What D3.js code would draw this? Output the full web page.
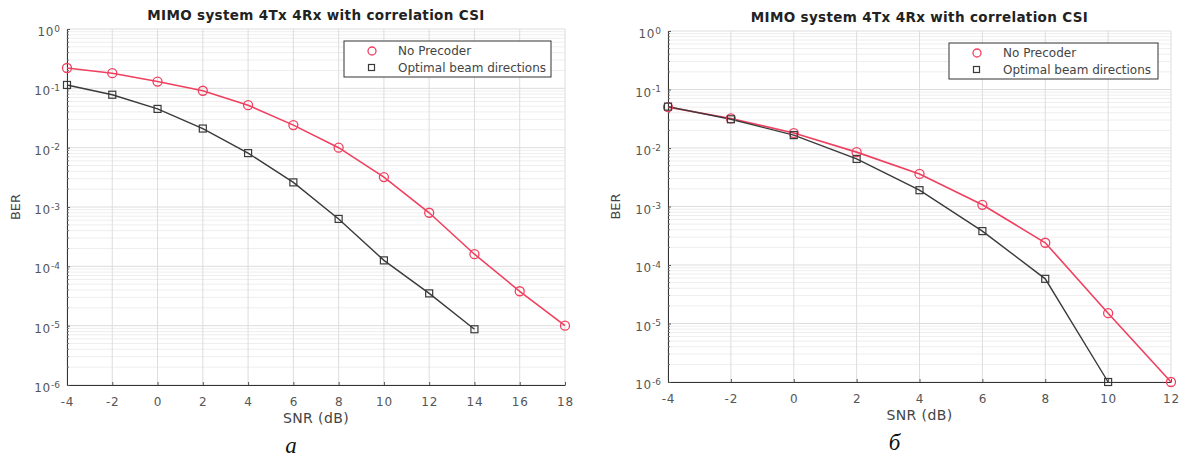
<!DOCTYPE html>
<html>
<head>
<meta charset="utf-8">
<script src="https://cdn.jsdelivr.net/npm/d3@7"></script>
<style>
  body { margin: 0; background: #fff; }
  svg { display: block; font-family: "DejaVu Sans", Arial, sans-serif; }
</style>
</head>
<body>
<svg id="chart" width="1186" height="459"></svg>
<script>
// Panel a
const snrA = [-4, -2, 0, 2, 4, 6, 8, 10, 12, 14, 16, 18];
const noPrecoderA = [0.22, 0.18, 0.13, 0.091, 0.052, 0.024, 0.0100, 0.0032, 0.00080, 0.00016, 0.000038, 0.000010];
const optimalA = [0.114, 0.078, 0.045, 0.021, 0.0081, 0.0026, 0.00063, 0.000126, 0.000035, 0.0000087];

// Panel б
const snrB = [-4, -2, 0, 2, 4, 6, 8, 10, 12];
const noPrecoderB = [0.050, 0.032, 0.018, 0.0085, 0.0036, 0.00107, 0.00024, 0.000015, 0.000001];
const optimalB = [0.051, 0.031, 0.0166, 0.0065, 0.0019, 0.00038, 0.000058, 0.000001];

const xTicksA = [-4, -2, 0, 2, 4, 6, 8, 10, 12, 14, 16, 18];
const xTicksB = [-4, -2, 0, 2, 4, 6, 8, 10, 12];
const yExponents = [0, -1, -2, -3, -4, -5, -6];

const title = "MIMO system 4Tx 4Rx with correlation CSI";
const legendNames = ["No Precoder", "Optimal beam directions"];
const redColor = "#f0405f";
const darkColor = "#3a3a3a";

const svg = d3.select("#chart");

function panel(opts) {
  const { left, right, top, bottom, xDomain, xTicks, snr, red, black, caption, legend, titleY, labelX } = opts;

  const x = d3.scaleLinear().domain(xDomain).range([left, right]);
  const y = d3.scaleLog().domain([1e-6, 1]).range([bottom, top]);

  const g = svg.append("g");

  // minor grid
  const minor = [];
  for (let e = -6; e < 0; e++) for (let m = 2; m <= 9; m++) minor.push(m * Math.pow(10, e));
  g.append("g")
    .selectAll("line")
    .data(minor)
    .join("line")
    .attr("x1", left).attr("x2", right)
    .attr("y1", d => y(d)).attr("y2", d => y(d))
    .attr("stroke", "#eeeeee");

  // major grid
  g.append("g")
    .selectAll("line")
    .data(yExponents.map(e => Math.pow(10, e)))
    .join("line")
    .attr("x1", left).attr("x2", right)
    .attr("y1", d => y(d)).attr("y2", d => y(d))
    .attr("stroke", "#dddddd");
  g.append("g")
    .selectAll("line")
    .data(xTicks)
    .join("line")
    .attr("x1", d => x(d)).attr("x2", d => x(d))
    .attr("y1", top).attr("y2", bottom)
    .attr("stroke", "#dddddd");

  // axes
  g.append("g")
    .attr("transform", `translate(0,${bottom})`)
    .call(d3.axisBottom(x).tickValues(xTicks).tickFormat(d => String(d)).tickSize(-3).tickPadding(12).tickSizeOuter(0))
    .call(a => a.select(".domain").attr("stroke", "#333"))
    .call(a => a.selectAll(".tick line").attr("stroke", "#555"))
    .call(a => a.selectAll(".tick text")
      .attr("fill", "#555").attr("font-size", 12).attr("letter-spacing", 0.8)
      .attr("font-family", "'DejaVu Sans', sans-serif"));

  const ya = g.append("g")
    .attr("transform", `translate(${left},0)`)
    .call(d3.axisLeft(y).tickValues(yExponents.map(e => Math.pow(10, e))).tickSize(-3).tickPadding(7).tickSizeOuter(0).tickFormat(""))
    .call(a => a.select(".domain").attr("stroke", "#333"))
    .call(a => a.selectAll(".tick line").attr("stroke", "#555"));
  ya.selectAll(".tick text").each(function (d) {
    const t = d3.select(this)
      .attr("fill", "#555").attr("font-size", 12).attr("dy", "0.55em")
      .attr("font-family", "'DejaVu Sans', sans-serif");
    t.append("tspan").attr("letter-spacing", 0.8).text("10");
    t.append("tspan").attr("dy", "-0.5em").attr("font-size", 9).text(String(Math.round(Math.log10(d))));
  });
  // minor ticks on y
  g.append("g")
    .selectAll("line")
    .data(minor)
    .join("line")
    .attr("x1", left).attr("x2", left + 2)
    .attr("y1", d => y(d)).attr("y2", d => y(d))
    .attr("stroke", "#777");

  const line = d3.line().x((d, i) => x(snr[i])).y(d => y(d));

  g.append("path").datum(red).attr("d", line).attr("fill", "none").attr("stroke", redColor).attr("stroke-width", 1.6);
  g.append("path").datum(black).attr("d", line).attr("fill", "none").attr("stroke", darkColor).attr("stroke-width", 1.4);

  g.append("g")
    .selectAll("circle")
    .data(red)
    .join("circle")
    .attr("cx", (d, i) => x(snr[i])).attr("cy", d => y(d))
    .attr("r", 4.5).attr("fill", "none").attr("stroke", redColor).attr("stroke-width", 1.3);
  g.append("g")
    .selectAll("rect")
    .data(black)
    .join("rect")
    .attr("x", (d, i) => x(snr[i]) - 3.5).attr("y", d => y(d) - 3.5)
    .attr("width", 7).attr("height", 7)
    .attr("fill", "none").attr("stroke", darkColor).attr("stroke-width", 1.2);

  // title
  g.append("text")
    .attr("x", (left + right) / 2).attr("y", titleY)
    .attr("text-anchor", "middle")
    .attr("font-size", 13.5).attr("letter-spacing", 0.35).attr("font-weight", "bold").attr("fill", "#222")
    .text(title);

  // axis labels
  g.append("text")
    .attr("x", (left + right) / 2).attr("y", bottom + 38)
    .attr("text-anchor", "middle").attr("font-size", 14).attr("letter-spacing", 0.4).attr("fill", "#444")
    .text("SNR (dB)");
  g.append("text")
    .attr("transform", `translate(${labelX},${(top + bottom) / 2}) rotate(-90)`)
    .attr("text-anchor", "middle").attr("font-size", 13).attr("fill", "#444")
    .text("BER");

  // caption
  g.append("text")
    .attr("x", (left + right) / 2 - 25).attr("y", bottom + 68)
    .attr("text-anchor", "middle")
    .attr("font-family", "'Liberation Serif', 'DejaVu Serif', serif")
    .attr("font-style", "italic").attr("font-size", 23).attr("fill", "#111")
    .text(caption);

  // legend
  const lg = g.append("g");
  lg.append("rect")
    .attr("x", legend.x).attr("y", legend.y).attr("width", legend.w).attr("height", 36)
    .attr("fill", "#fff").attr("stroke", "#333").attr("stroke-width", 1);
  lg.append("circle")
    .attr("cx", legend.x + 28).attr("cy", legend.y + 10).attr("r", 4)
    .attr("fill", "none").attr("stroke", redColor).attr("stroke-width", 1.3);
  lg.append("rect")
    .attr("x", legend.x + 24.5).attr("y", legend.y + 23.5).attr("width", 6).attr("height", 6)
    .attr("fill", "none").attr("stroke", darkColor).attr("stroke-width", 1.2);
  legendNames.forEach((name, i) => {
    lg.append("text")
      .attr("x", legend.x + 54).attr("y", legend.y + 14 + i * 17)
      .attr("font-size", 12).attr("fill", "#444")
      .text(name);
  });
}

panel({
  left: 67, right: 565, top: 29, bottom: 385,
  xDomain: [-4, 18], xTicks: xTicksA,
  snr: snrA, red: noPrecoderA, black: optimalA,
  caption: "а", titleY: 20, labelX: 20,
  legend: { x: 344, y: 41, w: 207 }
});

panel({
  left: 668, right: 1171, top: 31, bottom: 382,
  xDomain: [-4, 12], xTicks: xTicksB,
  snr: snrB, red: noPrecoderB, black: optimalB,
  caption: "б", titleY: 22, labelX: 620,
  legend: { x: 949, y: 43, w: 209 }
});
</script>
</body>
</html>
